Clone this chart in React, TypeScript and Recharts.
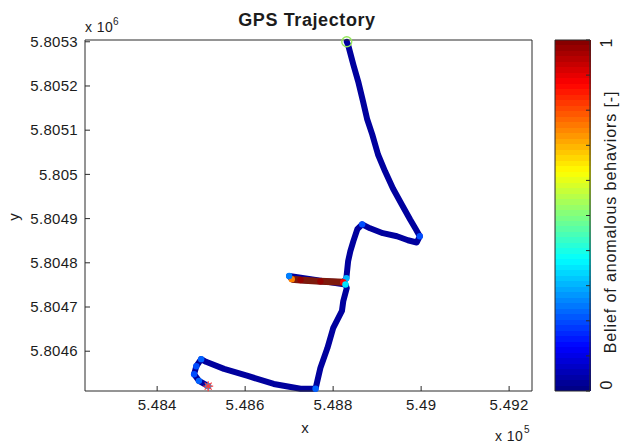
import React from "react";
import { ComposedChart, Line, Scatter, XAxis, YAxis, BarChart, Bar } from "recharts";

// axis ranges (metres, UTM-like) and tick positions
const X_DOMAIN = [548236, 549252];
const Y_DOMAIN = [5804510, 5805304];
const X_TICKS = [548400, 548600, 548800, 549000, 549200];
const Y_TICKS = [5804600, 5804700, 5804800, 5804900, 5805000, 5805100, 5805200, 5805300];
const CBAR_TICKS = [0, 0.1, 0.2, 0.3, 0.4, 0.5, 0.6, 0.7, 0.8, 0.9, 1];
const CBAR_LABELS = [0, 1];

// GPS track
const TRACK_X = [
  548831, 548834, 548846, 548857, 548868, 548877, 548889, 548902, 548918, 548936,
  548956, 548975, 548988, 548997, 548990, 548970, 548945, 548913, 548884, 548866,
  548855, 548846, 548839, 548834, 548830, 548823, 548771, 548726, 548706, 548700,
  548828, 548831, 548823, 548820, 548800, 548787, 548771, 548760, 548726, 548665,
  548606, 548552, 548511, 548500, 548489, 548484, 548495, 548516,
];
const TRACK_Y = [
  5805300, 5805293, 5805248, 5805210, 5805165, 5805126, 5805090, 5805045, 5805007, 5804968,
  5804932, 5804898, 5804876, 5804860, 5804846, 5804851, 5804860, 5804867, 5804878, 5804887,
  5804876, 5804849, 5804826, 5804803, 5804765, 5804756, 5804758, 5804761, 5804763, 5804770,
  5804751, 5804743, 5804713, 5804691, 5804652, 5804607, 5804562, 5804515, 5804515, 5804526,
  5804544, 5804560, 5804576, 5804582, 5804566, 5804548, 5804533, 5804521,
];
const TRACK_BELIEF = [
  0.02, 0.02, 0.02, 0.02, 0.02, 0.02, 0.02, 0.02, 0.02, 0.02,
  0.02, 0.02, 0.02, 0.2, 0.02, 0.02, 0.02, 0.02, 0.02, 0.2,
  0.02, 0.02, 0.02, 0.02, 0.3, 0.88, 0.98, 0.98, 0.75, 0.25,
  0.35, 0.02, 0.02, 0.02, 0.02, 0.02, 0.02, 0.22, 0.02, 0.02,
  0.02, 0.02, 0.02, 0.22, 0.2, 0.2, 0.22, 0.3,
];
const START = [{ x: 548831, y: 5805300 }];
const END = [{ x: 548516, y: 5804521 }];
const CBAR_DATA = [{ name: "belief", value: 1 }];

const FONT = "'Liberation Sans', Arial, Helvetica, sans-serif";
const INK = "#1c1c1c";
const AXIS = "#2a2a2a";

// MATLAB jet colormap
const jet = (v: number) => {
  const c = (t: number) =>
    Math.round(255 * Math.max(0, Math.min(1, 1.5 - Math.abs(4 * v - t))));
  return `rgb(${c(3)},${c(2)},${c(1)})`;
};

const track = TRACK_X.map((x, i) => ({ x, y: TRACK_Y[i], b: TRACK_BELIEF[i] }));
const anomaly = track.filter((p) => p.b > 0.7);
const spots = track.filter((p) => p.b > 0.1);

const fmt = (v: number, p: number) => String(Number((v / p).toFixed(4)));

const XTick = (props: any) => (
  <text
    x={props.x}
    y={props.y}
    dy="0.35em"
    textAnchor="middle"
    fontFamily={FONT}
    fontSize={15}
    letterSpacing={0.3}
    fill={INK}
  >
    {fmt(props.payload.value, 1e5)}
  </text>
);

const YTick = (props: any) => (
  <text
    x={props.x}
    y={props.y}
    dy="0.35em"
    textAnchor="end"
    fontFamily={FONT}
    fontSize={15}
    letterSpacing={0.3}
    fill={INK}
  >
    {fmt(props.payload.value, 1e6)}
  </text>
);

const CbarTick = (props: any) => {
  const v = Number(props.payload && props.payload.value);
  if (!CBAR_LABELS.includes(v)) return <g />;
  const y = props.y + (v === 1 ? 3 : -6);
  return (
    <text
      x={props.x}
      y={y}
      textAnchor="middle"
      transform={`rotate(-90, ${props.x}, ${y})`}
      fontFamily={FONT}
      fontSize={16}
      fill={INK}
    >
      {v}
    </text>
  );
};

const CBAR_MARGIN = { top: 40, right: 40, bottom: 53, left: 14 };

export default function App() {
  return (
    <div
      style={{
        position: "absolute",
        left: 0,
        top: 0,
        width: 631,
        height: 444,
        background: "#fff",
      }}
    >
      <div style={{ position: "absolute", left: 0, top: 0 }}>
        <ComposedChart
          width={631}
          height={444}
          margin={{ top: 39, right: 98, bottom: 52, left: 84 }}
        >
          <XAxis
            type="number"
            dataKey="x"
            domain={X_DOMAIN}
            ticks={X_TICKS}
            height={1}
            tickSize={-5}
            tickMargin={19}
            tick={<XTick />}
            axisLine={{ stroke: AXIS }}
            tickLine={{ stroke: AXIS }}
          />
          <XAxis
            xAxisId="top"
            orientation="top"
            type="number"
            domain={X_DOMAIN}
            ticks={X_TICKS}
            height={1}
            tickSize={-5}
            tick={false}
            axisLine={{ stroke: AXIS }}
            tickLine={{ stroke: AXIS }}
          />
          <YAxis
            type="number"
            dataKey="y"
            domain={Y_DOMAIN}
            ticks={Y_TICKS}
            width={1}
            tickSize={-5}
            tickMargin={12}
            tick={<YTick />}
            axisLine={{ stroke: AXIS }}
            tickLine={{ stroke: AXIS }}
          />
          <YAxis
            yAxisId="right"
            orientation="right"
            type="number"
            domain={Y_DOMAIN}
            ticks={Y_TICKS}
            width={1}
            tickSize={-5}
            tick={false}
            axisLine={{ stroke: AXIS }}
            tickLine={{ stroke: AXIS }}
          />
          <Line
            data={track}
            dataKey="y"
            type="linear"
            stroke={jet(0.03)}
            strokeWidth={6}
            strokeLinejoin="round"
            strokeLinecap="round"
            dot={false}
            isAnimationActive={false}
          />
          <Line
            data={anomaly}
            dataKey="y"
            type="linear"
            stroke="#7e1a0c"
            strokeWidth={7}
            strokeLinejoin="round"
            dot={false}
            isAnimationActive={false}
          />
          <Scatter
            data={spots}
            isAnimationActive={false}
            shape={(p: any) => (
              <circle cx={p.cx} cy={p.cy} r={3.2} fill={jet(p.payload.b)} />
            )}
          />
          <Scatter
            data={START}
            isAnimationActive={false}
            shape={(p: any) => (
              <circle
                cx={p.cx}
                cy={p.cy}
                r={5}
                fill="none"
                stroke="#94e85a"
                strokeWidth={1.3}
              />
            )}
          />
          <Scatter
            data={END}
            isAnimationActive={false}
            shape={(p: any) => (
              <g stroke="#ff3a3a" strokeWidth={1.2}>
                <line x1={p.cx - 5} y1={p.cy} x2={p.cx + 5} y2={p.cy} />
                <line x1={p.cx} y1={p.cy - 5} x2={p.cx} y2={p.cy + 5} />
                <line x1={p.cx - 3.5} y1={p.cy - 3.5} x2={p.cx + 3.5} y2={p.cy + 3.5} />
                <line x1={p.cx - 3.5} y1={p.cy + 3.5} x2={p.cx + 3.5} y2={p.cy - 3.5} />
              </g>
            )}
          />
        </ComposedChart>
      </div>

      {/* colour bar fill */}
      <div style={{ position: "absolute", left: 540, top: 0 }}>
        <BarChart
          width={91}
          height={444}
          data={CBAR_DATA}
          barCategoryGap={0}
          margin={CBAR_MARGIN}
        >
          <defs>
            <linearGradient id="jetScale" x1="0" y1="1" x2="0" y2="0">
              {Array.from({ length: 64 }).flatMap((_, k) => [
                <stop key={`a${k}`} offset={k / 64} stopColor={jet((k + 0.5) / 64)} />,
                <stop key={`b${k}`} offset={(k + 1) / 64} stopColor={jet((k + 0.5) / 64)} />,
              ])}
            </linearGradient>
          </defs>
          <XAxis dataKey="name" hide />
          <YAxis
            type="number"
            domain={[0, 1]}
            ticks={CBAR_TICKS}
            width={1}
            tick={false}
            tickLine={false}
            axisLine={false}
          />
          <Bar dataKey="value" fill="url(#jetScale)" isAnimationActive={false} />
        </BarChart>
      </div>

      {/* colour bar frame, ticks and labels on top of the fill */}
      <div style={{ position: "absolute", left: 540, top: 0 }}>
        <BarChart
          width={91}
          height={444}
          data={CBAR_DATA}
          barCategoryGap={0}
          margin={CBAR_MARGIN}
        >
          <XAxis dataKey="name" hide />
          <YAxis
            type="number"
            domain={[0, 1]}
            ticks={CBAR_TICKS}
            width={1}
            tickSize={-4}
            tick={false}
            axisLine={false}
            tickLine={{ stroke: AXIS }}
          />
          <YAxis
            yAxisId="r"
            orientation="right"
            type="number"
            domain={[0, 1]}
            ticks={CBAR_TICKS}
            interval={0}
            width={1}
            tickSize={-4}
            tickMargin={26}
            tick={<CbarTick />}
            axisLine={false}
            tickLine={{ stroke: AXIS }}
          />
          <Bar
            yAxisId="r"
            dataKey="value"
            fill="none"
            stroke={AXIS}
            strokeWidth={1}
            isAnimationActive={false}
          />
        </BarChart>
      </div>

      <svg
        width={631}
        height={444}
        style={{ position: "absolute", left: 0, top: 0, pointerEvents: "none" }}
        fontFamily={FONT}
        fill={INK}
      >
        <text x={307} y={26} textAnchor="middle" fontSize={18} fontWeight="bold" letterSpacing={0.6}>
          GPS Trajectory
        </text>
        <text x={85} y={32} fontSize={14} letterSpacing={0.4}>
          x 10
        </text>
        <text x={113} y={25} fontSize={10}>
          6
        </text>
        <text x={305} y={433} textAnchor="middle" fontSize={15}>
          x
        </text>
        <text x={495} y={441} fontSize={14} letterSpacing={0.4}>
          x 10
        </text>
        <text x={524} y={433} fontSize={10}>
          5
        </text>
        <text x={19} y={217} textAnchor="middle" fontSize={15} transform="rotate(-90, 19, 217)">
          y
        </text>
        <text
          x={616}
          y={222}
          textAnchor="middle"
          fontSize={16}
          letterSpacing={0.9}
          transform="rotate(-90, 616, 222)"
        >
          Belief of anomalous behaviors [-]
        </text>
      </svg>
    </div>
  );
}
